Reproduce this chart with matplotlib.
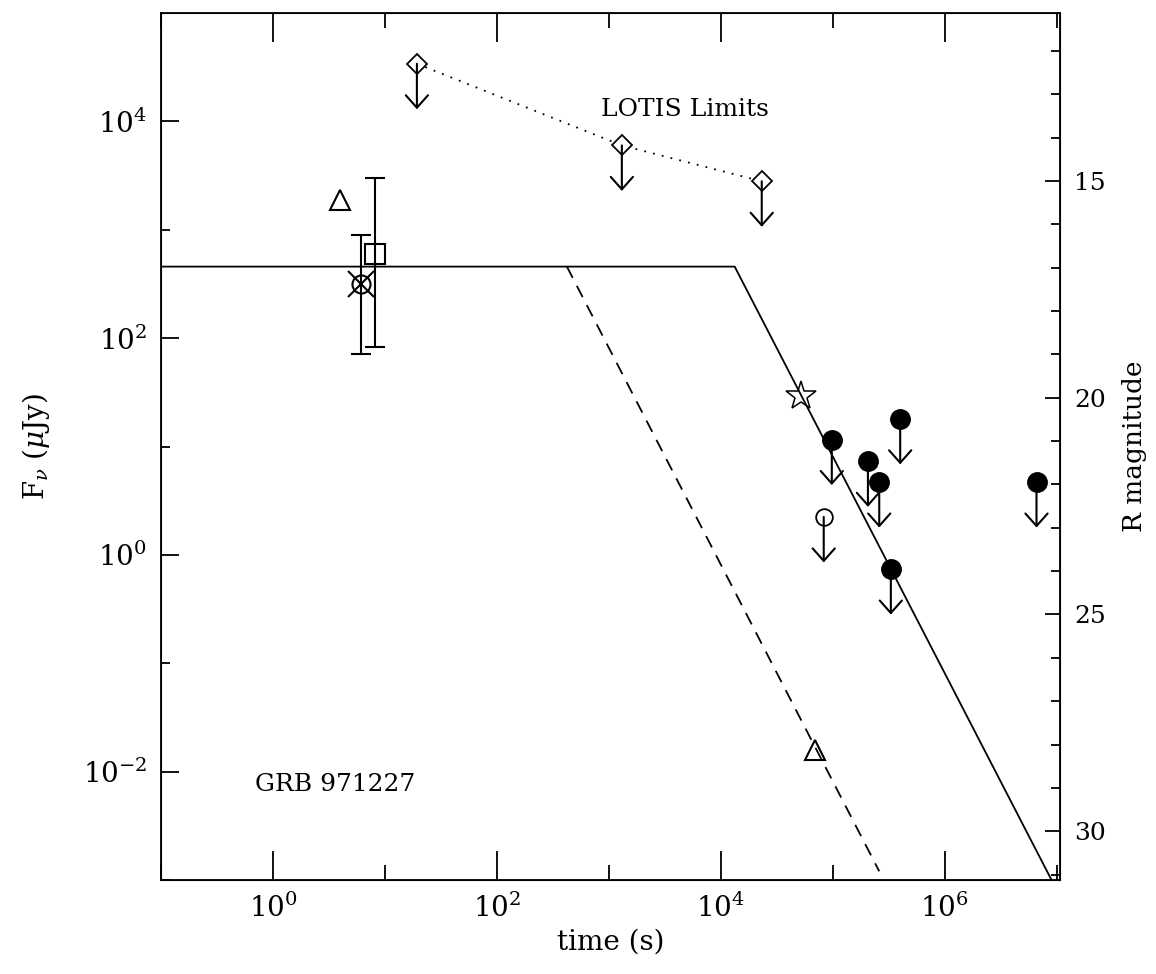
import matplotlib
matplotlib.use('Agg')
import matplotlib.pyplot as plt
import numpy as np
from matplotlib.ticker import FixedLocator, NullFormatter, MultipleLocator

plt.rcParams['font.family'] = ['DejaVu Serif']
plt.rcParams['mathtext.fontset'] = 'dejavuserif'

# model light curves (time in s, flux in microJy)
model_t = [1e-1, 1.33e4, 1.07e7]
model_f = [457, 457, 457 * (1.07e7 / 1.33e4) ** -2.0]
dash_t = [422, 2.6e5]
dash_f = [457, 457 * (2.6e5 / 422) ** -2.0]

# LOTIS upper limits
lotis_t = [19.3, 1306, 2.32e4]
lotis_f = [3.4e4, 6000, 2800]

# detections with error bars
sq_t, sq_f, sq_lo, sq_hi = 8.1, 600, 83, 3000
ox_t, ox_f, ox_lo, ox_hi = 6.1, 313, 71, 900
tri_t, tri_f = [4.0, 6.9e4], [1900, 0.016]
star_t, star_f = 5.2e4, 29.4

# other upper limits
ul_t = [9.8e4, 2.06e5, 2.6e5, 4.0e5, 3.3e5, 6.6e6]
ul_f = [11.6, 7.3, 4.7, 18.0, 0.74, 4.7]
oc_t, oc_f = 8.3e4, 2.24

F0 = 2.82e9  # microJy, R = 0 zero point

fig = plt.figure(figsize=(11.56, 9.74), dpi=100)
ax = fig.add_axes([161 / 1156, 1 - 880 / 974, (1060 - 161) / 1156, (880 - 13) / 974])
ax.set_xscale('log')
ax.set_yscale('log')
ax.set_xlim(0.1, 1.07e7)
ax.set_ylim(1e-3, 1e5)

ax.plot(model_t, model_f, color='black', lw=1.3)
ax.plot(dash_t, dash_f, color='black', lw=1.3, ls=(0, (7, 5)))

def upper(t, f):
    ax.annotate('', xy=(t, f / 10 ** 0.42), xytext=(t, f),
                arrowprops=dict(arrowstyle='->,head_width=0.8,head_length=0.9',
                                color='black', lw=1.5, shrinkA=0, shrinkB=0))

ax.plot(lotis_t, lotis_f, color='black', lw=1.3, ls=(0, (1, 4)))
ax.plot(lotis_t, lotis_f, 'D', ms=10, mfc='white', mec='black', mew=1.3)
for t, f in zip(lotis_t, lotis_f):
    upper(t, f)

ax.errorbar([sq_t], [sq_f], yerr=[[sq_f - sq_lo], [sq_hi - sq_f]], fmt='s', ms=14,
            mfc='none', mec='black', mew=1.5, ecolor='black', elinewidth=1.5,
            capsize=7, capthick=1.5)
ax.errorbar([ox_t], [ox_f], yerr=[[ox_f - ox_lo], [ox_hi - ox_f]], fmt='o', ms=13,
            mfc='none', mec='black', mew=1.5, ecolor='black', elinewidth=1.5,
            capsize=7, capthick=1.5)
ax.plot([ox_t], [ox_f], 'x', ms=19, mec='black', mew=1.5)

ax.plot(tri_t, tri_f, '^', ms=15, mfc='none', mec='black', mew=1.5)
ax.plot([star_t], [star_f], '*', ms=22, mfc='none', mec='black', mew=1.1)

for t, f in zip(ul_t, ul_f):
    upper(t, f)
ax.plot(ul_t, ul_f, 'o', ms=14, color='black')
upper(oc_t, oc_f)
ax.plot([oc_t], [oc_f], 'o', ms=12, mfc='white', mec='black', mew=1.3)

ax.text(4.8e3, 1.3e4, 'LOTIS Limits', fontsize=18, ha='center', va='center')
ax.text(3.58, 7.6e-3, 'GRB 971227', fontsize=18, ha='center', va='center')

# ticks
ax.xaxis.set_major_locator(FixedLocator([1e0, 1e2, 1e4, 1e6]))
ax.xaxis.set_minor_locator(FixedLocator([1e-1, 1e1, 1e3, 1e5, 1e7]))
ax.xaxis.set_minor_formatter(NullFormatter())
ax.yaxis.set_major_locator(FixedLocator([1e-2, 1e0, 1e2, 1e4]))
ax.yaxis.set_minor_locator(FixedLocator([1e-3, 1e-1, 1e1, 1e3]))
ax.yaxis.set_minor_formatter(NullFormatter())
ax.tick_params(axis='x', which='major', direction='in', length=21, width=1.3,
               labelsize=20, pad=10, top=True)
ax.tick_params(axis='x', which='minor', direction='in', length=11, width=1.3, top=True)
ax.tick_params(axis='y', which='major', direction='in', length=13, width=1.3,
               labelsize=20, pad=10, right=False)
ax.tick_params(axis='y', which='minor', direction='in', length=6.5, width=1.3, right=False)
for s in ax.spines.values():
    s.set_linewidth(1.3)

ax.set_xlabel('time (s)', fontsize=20, labelpad=4)
ax.set_ylabel(r'F$_\nu$ ($\mu$Jy)', fontsize=20, labelpad=22)

ax2 = ax.twinx()
ax2.set_ylim(-2.5 * np.log10(1e-3 / F0), -2.5 * np.log10(1e5 / F0))
ax2.yaxis.set_major_locator(MultipleLocator(5))
ax2.yaxis.set_minor_locator(MultipleLocator(1))
ax2.tick_params(which='major', direction='in', length=11, width=1.3, labelsize=18, pad=10)
ax2.tick_params(which='minor', direction='in', length=6.5, width=1.3)
ax2.set_ylabel('R magnitude', fontsize=19, labelpad=12)

fig.savefig('out.png', dpi=100)
